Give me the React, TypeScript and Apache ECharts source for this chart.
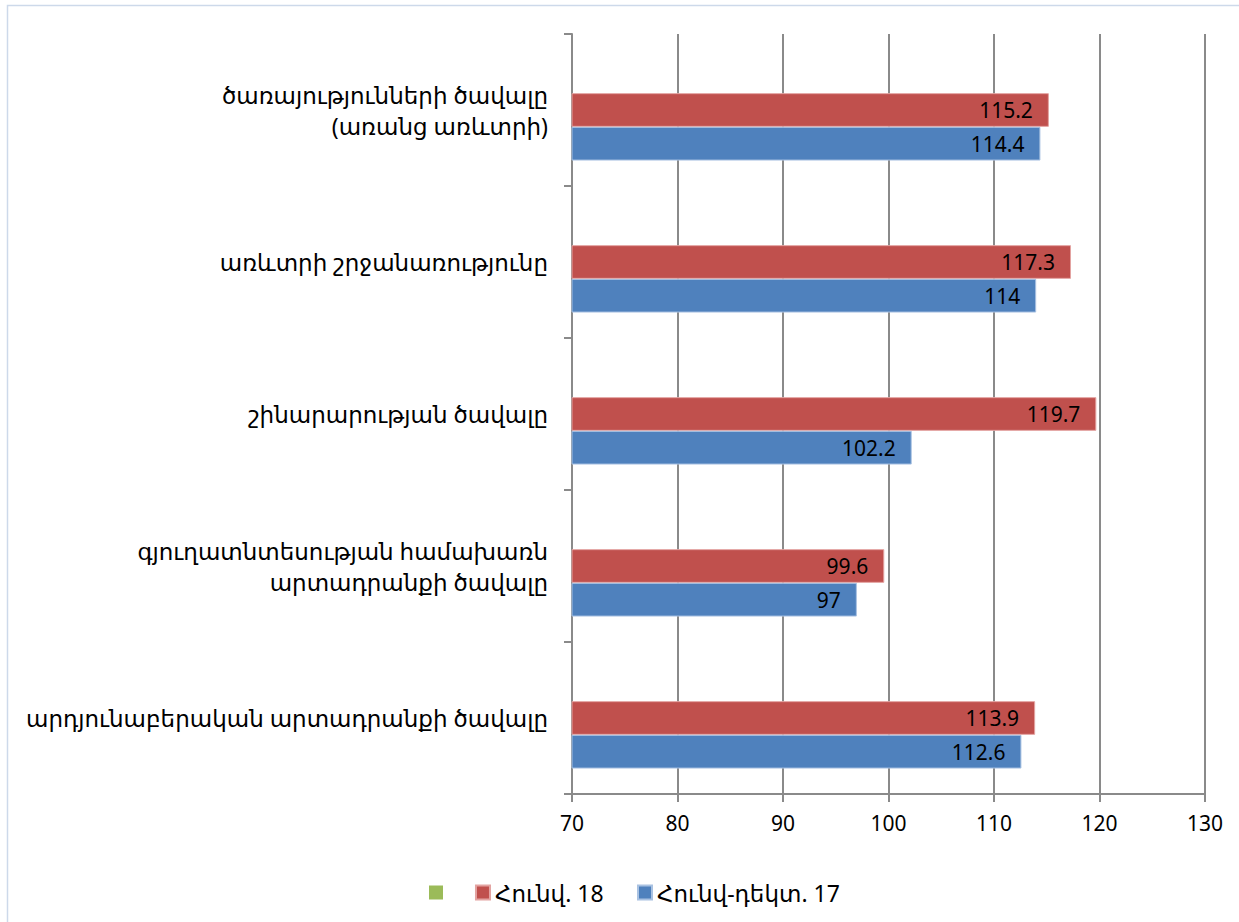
import React, { useEffect, useRef } from "react";
import * as echarts from "echarts";

const categories = [
  "ծառայությունների ծավալը\n(առանց առևտրի)",
  "առևտրի շրջանառությունը",
  "շինարարության ծավալը",
  "գյուղատնտեսության համախառն\nարտադրանքի ծավալը",
  "արդյունաբերական արտադրանքի ծավալը",
];
const seriesNames = [" ", "Հունվ. 18", "Հունվ-դեկտ. 17"];
const emptyValues: (number | null)[] = [null, null, null, null, null];
const jan18 = [115.2, 117.3, 119.7, 99.6, 113.9];
const year17 = [114.4, 114, 102.2, 97, 112.6];
const xMin = 70;
const xMax = 130;
const xStep = 10;

const FONT = "'Noto Sans', 'DejaVu Sans', sans-serif";

export default function App() {
  const ref = useRef<HTMLDivElement>(null);
  useEffect(() => {
    if (!ref.current) return;
    const chart = echarts.init(ref.current, undefined, { renderer: "svg" });
    const label = {
      show: true,
      position: "insideRight" as const,
      distance: 16,
      color: "#000",
      fontSize: 21,
      fontFamily: FONT,
    };
    const legendBase = {
      top: 876,
      itemWidth: 14,
      itemHeight: 14,
      icon: "rect",
      textStyle: { fontSize: 23, color: "#000", fontFamily: FONT },
    };
    chart.setOption({
      animation: false,
      textStyle: { fontFamily: FONT },
      graphic: [
        {
          type: "rect",
          shape: { x: 7.5, y: 5.5, width: 1300, height: 1000 },
          style: { fill: "none", stroke: "#cdd9ea", lineWidth: 1.5 },
          silent: true,
        },
      ],
      grid: { left: 572, right: 34, top: 34, bottom: 128 },
      legend: [
        { ...legendBase, data: [seriesNames[0], seriesNames[1]], left: 424, itemGap: 21 },
        { ...legendBase, data: [seriesNames[2]], left: 632 },
      ],
      xAxis: {
        type: "value",
        min: xMin,
        max: xMax,
        interval: xStep,
        axisLine: { show: true, lineStyle: { color: "#8a8a8a", width: 2 } },
        axisTick: { show: true, length: 8, lineStyle: { color: "#8a8a8a", width: 2 } },
        splitLine: { show: true, lineStyle: { color: "#8a8a8a", width: 2 } },
        axisLabel: { fontSize: 21, color: "#000", margin: 18, fontFamily: FONT },
      },
      yAxis: {
        type: "category",
        inverse: true,
        data: categories,
        axisLine: { show: true, lineStyle: { color: "#8a8a8a", width: 2 } },
        axisTick: { show: true, length: 8, lineStyle: { color: "#8a8a8a", width: 2 } },
        axisLabel: {
          fontSize: 23,
          color: "#000",
          margin: 24,
          lineHeight: 31,
          align: "right",
          fontFamily: FONT,
        },
      },
      series: [
        {
          name: seriesNames[0],
          type: "bar",
          data: emptyValues,
          barWidth: 33.7,
          barGap: "0%",
          itemStyle: { color: "#9BBB59" },
        },
        {
          name: seriesNames[1],
          type: "bar",
          data: jan18,
          barWidth: 33.7,
          barGap: "0%",
          itemStyle: { color: "#C0504D", borderColor: "#e3a3a1", borderWidth: 1 },
          label,
        },
        {
          name: seriesNames[2],
          type: "bar",
          data: year17,
          barWidth: 33.7,
          barGap: "0%",
          itemStyle: { color: "#4F81BD", borderColor: "#a9c2e2", borderWidth: 1 },
          label,
        },
      ],
    });
    return () => chart.dispose();
  }, []);
  return (
    <div
      ref={ref}
      style={{ position: "absolute", left: 0, top: 0, width: 1239, height: 922 }}
    />
  );
}
